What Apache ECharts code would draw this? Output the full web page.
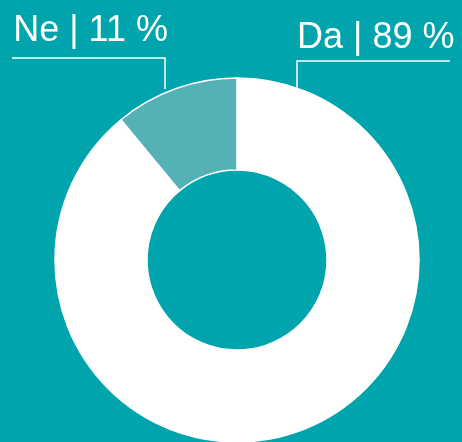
<!DOCTYPE html>
<html>
<head>
<meta charset="utf-8">
<script src="https://cdn.jsdelivr.net/npm/echarts@6/dist/echarts.min.js"></script>
<style>
html, body { margin: 0; padding: 0; background: #00a4ac; }
#myChart { width: 462px; height: 442px; }
</style>
</head>
<body>
<div id="myChart"></div>
<script>
var names = ["Da", "Ne"];
var values = [89, 11];
var colors = ["#ffffff", "#54b1b6"];

// where each label and its leader line sit
var labelPos = [
	{ x: 297, y: 38, align: "left", line: [[297, 89], [297, 61], [450, 61]] },
	{ x: 168, y: 31, align: "right", line: [[165, 89], [165, 58], [12, 58]] },
];

var myChart = echarts.init(document.getElementById("myChart"));
myChart.setOption({
	backgroundColor: "#00a4ac",
	animation: false,
	series: [
		{
			type: "pie",
			center: [237, 260],
			radius: [90, 182],
			startAngle: 90,
			clockwise: true,
			avoidLabelOverlap: false,
			data: names.map(function (n, i) {
				return { name: n, value: values[i], itemStyle: { color: colors[i] } };
			}),
			itemStyle: {
				borderColor: "#ffffff",
				borderWidth: 1.5,
			},
			label: {
				show: true,
				color: "#ffffff",
				fontFamily: "'Liberation Sans', Arial, sans-serif",
				fontSize: 36,
				overflow: "none",
				width: 300,
				formatter: function (p) {
					return p.name + " | " + p.value + " %";
				},
			},
			labelLine: {
				show: true,
				lineStyle: { color: "#ffffff", width: 1.5 },
			},
			labelLayout: function (params) {
				var lp = labelPos[params.dataIndex];
				return {
					x: lp.x,
					y: lp.y,
					width: 300,
					align: lp.align,
					verticalAlign: "middle",
					labelLinePoints: lp.line,
				};
			},
		},
	],
});
</script>
</body>
</html>
